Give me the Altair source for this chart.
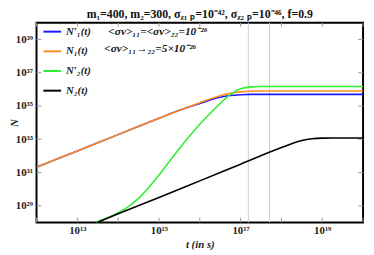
import altair as alt
import pandas as pd

# ---- data (log10 values) ----
series_names = ["N′₁(t)", "N₁(t)", "N′₂(t)", "N₂(t)"]
series_colors = ["#1a1aff", "#ff8c1f", "#33ee33", "#000000"]

blue_logt = [12.0, 13.0, 14.0, 15.0, 15.5, 16.0, 16.25, 16.5, 16.75, 17.0, 17.25, 17.5, 18.0, 19.0, 20.0]
blue_logN = [31.32, 32.3, 33.28, 34.26, 34.74, 35.15, 35.36, 35.53, 35.63, 35.68, 35.7, 35.7, 35.7, 35.7, 35.7]

orange_logt = [12.0, 13.0, 14.0, 15.0, 15.5, 16.0, 16.25, 16.5, 16.75, 17.0, 17.25, 17.5, 18.0, 19.0, 20.0]
orange_logN = [31.32, 32.3, 33.28, 34.26, 34.74, 35.2, 35.42, 35.62, 35.77, 35.85, 35.89, 35.9, 35.9, 35.9, 35.9]

green_logt = [13.45, 13.75, 14.0, 14.25, 14.5, 14.75, 15.0, 15.25, 15.5, 15.75, 16.0, 16.25, 16.5, 16.75, 17.0, 17.25, 17.5, 18.0, 19.0, 20.0]
green_logN = [28.0, 28.3, 28.58, 28.95, 29.45, 30.1, 30.85, 31.65, 32.45, 33.2, 33.9, 34.55, 35.15, 35.7, 36.03, 36.15, 36.17, 36.17, 36.17, 36.17]

black_logt = [13.48, 14.0, 15.0, 16.0, 17.0, 18.0, 18.5, 18.75, 19.0, 19.25, 19.5, 20.0]
black_logN = [28.0, 28.52, 29.5, 30.5, 31.5, 32.5, 32.93, 33.03, 33.07, 33.08, 33.08, 33.08]

vline_logt = [17.19, 17.71]

x_tick_values = [13, 15, 17, 19]
x_tick_labels = ["10¹³", "10¹⁵", "10¹⁷", "10¹⁹"]
x_minor_ticks = [12, 13, 14, 15, 16, 17, 18, 19, 20]
y_tick_values = [29, 31, 33, 35, 37, 39]
y_tick_labels = ["10²⁹", "10³¹", "10³³", "10³⁵", "10³⁷", "10³⁹"]

title_text = "m₁=400, m₂=300, σᵪ₁ ₚ=10⁻⁴², σᵪ₂ ₚ=10⁻⁴⁶, f=0.9"
annot_text = ["<σv>₁₁=<σv>₂₂=10⁻²⁶", "<σv>₁₁→₂₂=5×10⁻²⁶"]
annot_logt = [13.76, 13.66]
annot_logN = [39.42, 38.42]

# ---- build tables ----
rows = []
for name, lt, ln in zip(series_names,
                        [blue_logt, orange_logt, green_logt, black_logt],
                        [blue_logN, orange_logN, green_logN, black_logN]):
    for a, b in zip(lt, ln):
        rows.append({"series": name, "t": 10 ** a, "N": 10 ** b})
df = pd.DataFrame(rows)
df["ord"] = df["series"].map({n: i for i, n in enumerate(series_names)})

vdf = pd.DataFrame({"t": [10 ** v for v in vline_logt]})
xt = pd.DataFrame({"t": [10 ** v for v in x_minor_ticks]})
yt = pd.DataFrame({"N": [10 ** v for v in y_tick_values]})
adf = pd.DataFrame({"t": [10 ** v for v in annot_logt],
                    "N": [10 ** v for v in annot_logN],
                    "txt": annot_text})

def label_expr(values, labels):
    expr = "''"
    for v, l in reversed(list(zip(values, labels))):
        expr = f"(abs(log(datum.value)/LN10 - {v}) < 0.3 ? '{l}' : {expr})"
    return expr

SERIF = "Liberation Serif"
W, H = 332, 203
xscale = alt.Scale(type="log", domain=[1e12, 1e20], nice=False)
yscale = alt.Scale(type="log", domain=[1e28, 1e40], nice=False)

xaxis = alt.Axis(values=[10 ** v for v in x_tick_values],
                 labelExpr=label_expr(x_tick_values, x_tick_labels),
                 ticks=False, domain=False, grid=False,
                 labelFont=SERIF, labelFontWeight="bold", labelFontSize=11,
                 labelPadding=2, labelColor="#222",
                 title="t (in s)", titleFont=SERIF, titleFontStyle="italic",
                 titleFontWeight="bold", titleFontSize=11, titlePadding=3,
                 titleColor="#222")
yaxis = alt.Axis(values=[10 ** v for v in y_tick_values],
                 labelExpr=label_expr(y_tick_values, y_tick_labels),
                 ticks=False, domain=False, grid=False,
                 labelFont=SERIF, labelFontWeight="bold", labelFontSize=11,
                 labelPadding=4, labelColor="#222",
                 title="N", titleFont=SERIF, titleFontStyle="italic",
                 titleFontWeight="bold", titleFontSize=11,
                 titleX=-28, titleY=H / 2, titleAngle=270,
                 titleAlign="center", titleBaseline="top",
                 titleColor="#222")

color = alt.Color("series:N",
                  scale=alt.Scale(domain=series_names, range=series_colors),
                  legend=alt.Legend(orient="none", legendX=6, legendY=-1,
                                    title=None, symbolType="stroke",
                                    symbolSize=324, symbolStrokeWidth=2,
                                    labelFont=SERIF, labelFontStyle="italic",
                                    labelFontWeight="bold", labelFontSize=11,
                                    labelOffset=4, rowPadding=5, padding=0,
                                    labelColor="#222"))

vlines = alt.Chart(vdf).mark_rule(color="#cccccc", strokeWidth=1).encode(
    x=alt.X("t:Q", scale=xscale, axis=xaxis))

lines = alt.Chart(df).mark_line(strokeWidth=1.6, clip=True,
                                interpolate="monotone").encode(
    x=alt.X("t:Q", scale=xscale, axis=xaxis),
    y=alt.Y("N:Q", scale=yscale, axis=yaxis),
    color=color,
    detail="series:N",
    order="ord:Q")

tick_col = "#9a9a9a"
xb = alt.Chart(xt).mark_rule(color=tick_col, strokeWidth=1).encode(
    x=alt.X("t:Q", scale=xscale), y=alt.value(H), y2=alt.value(H - 5))
xtop = alt.Chart(xt).mark_rule(color=tick_col, strokeWidth=1).encode(
    x=alt.X("t:Q", scale=xscale), y=alt.value(0), y2=alt.value(4))
yl = alt.Chart(yt).mark_rule(color=tick_col, strokeWidth=1).encode(
    y=alt.Y("N:Q", scale=yscale), x=alt.value(0), x2=alt.value(5))
yr = alt.Chart(yt).mark_rule(color=tick_col, strokeWidth=1).encode(
    y=alt.Y("N:Q", scale=yscale), x=alt.value(W), x2=alt.value(W - 5))

annots = alt.Chart(adf).mark_text(align="left", baseline="middle",
                                  font=SERIF, fontStyle="italic",
                                  fontWeight="bold", fontSize=11.5,
                                  color="#111").encode(
    x=alt.X("t:Q", scale=xscale), y=alt.Y("N:Q", scale=yscale), text="txt:N")

chart = alt.layer(vlines, xb, xtop, yl, yr, lines, annots).properties(
    width=W, height=H,
    title=alt.TitleParams(title_text, font=SERIF, fontSize=12,
                          fontWeight="bold", anchor="middle", offset=1,
                          color="#111"),
    autosize=alt.AutoSizeParams(type="none"),
    padding={"left": 29, "top": 13, "right": 3, "bottom": 29},
).configure_view(stroke="black", strokeWidth=2)

chart.save("out.html", embed_options={"renderer": "svg", "actions": False})
